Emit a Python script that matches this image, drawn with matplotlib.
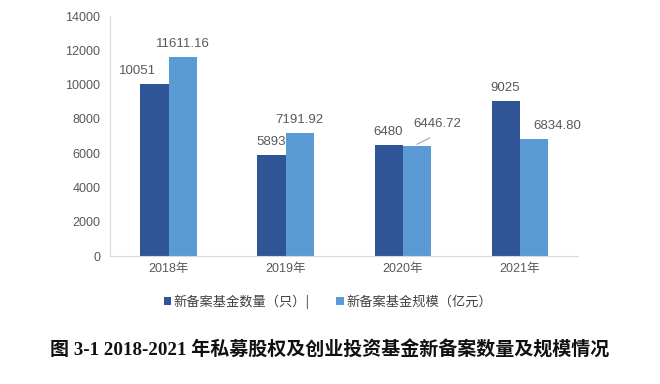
import matplotlib
matplotlib.use("Agg")
import matplotlib.pyplot as plt
import numpy as np

plt.rcParams['font.family'] = ['Liberation Sans', 'Noto Sans CJK SC', 'DejaVu Sans']

# data
years = ["2018年", "2019年", "2020年", "2021年"]
count = [10051, 5893, 6480, 9025]
scale = [11611.16, 7191.92, 6446.72, 6834.80]
count_labels = ["10051", "5893", "6480", "9025"]
scale_labels = ["11611.16", "7191.92", "6446.72", "6834.80"]
legend_names = ["新备案基金数量（只）|", "新备案基金规模（亿元）"]
title = "图 3-1 2018-2021 年私募股权及创业投资基金新备案数量及规模情况"

c_dark = "#2F5597"
c_light = "#5B9BD5"
txt = "#595959"

fig = plt.figure(figsize=(6.6, 3.84), dpi=100)
ax = fig.add_axes([0.1667, 0.333, 0.7093, 0.625])

x = np.arange(len(years))
w = 0.24
b1 = ax.bar(x - w / 2, count, w, color=c_dark, label=legend_names[0])
b2 = ax.bar(x + w / 2, scale, w, color=c_light, label=legend_names[1])

# value labels (some nudged sideways like the original)
dx_count = [-12, 0, 0, 0]
dx_scale = [0, 0, 15, 17]
dy_scale = [5, 5, 11, 5]
for i in range(len(years)):
    ax.annotate(count_labels[i], (x[i] - w / 2, count[i]), xytext=(dx_count[i], 5),
                textcoords="offset points", ha="center", va="bottom",
                fontsize=9.5, color=txt)
    ax.annotate(scale_labels[i], (x[i] + w / 2, scale[i]), xytext=(dx_scale[i], dy_scale[i]),
                textcoords="offset points", ha="center", va="bottom",
                fontsize=9.5, color=txt)
# leader line for 2020 scale label
ax.annotate("", (x[2] + w / 2 - 0.02, scale[2]), xytext=(13, 6.5),
            textcoords="offset points",
            arrowprops=dict(arrowstyle="-", color="#A6A6A6", lw=0.8))

ax.set_xlim(-0.5, len(years) - 0.5)
ax.set_ylim(0, 14000)
ax.set_yticks(range(0, 14001, 2000))
ax.set_xticks(x)
ax.set_xticklabels(years)
ax.tick_params(axis="both", length=0, labelsize=9, colors=txt)
ax.tick_params(axis="y", pad=7)
ax.tick_params(axis="x", pad=5)
for s in ["top", "right"]:
    ax.spines[s].set_visible(False)
ax.spines["left"].set_color("#D9D9D9")
ax.spines["bottom"].set_color("#D9D9D9")

fig.legend(handles=[b1, b2], loc="center", bbox_to_anchor=(0.497, 0.215), ncol=2,
           frameon=False, handlelength=0.55, handleheight=0.55,
           handletextpad=0.2, columnspacing=2.0, labelcolor="#404040",
           prop={'family': ['Noto Sans CJK SC', 'DejaVu Sans'], 'size': 9.5})

fig.text(0.5, 0.088, title, ha="center", va="center", fontsize=13.7,
         fontweight="bold", color="#111111",
         family=['Liberation Serif', 'Noto Sans CJK SC'])

fig.savefig("out.png", dpi=100)
